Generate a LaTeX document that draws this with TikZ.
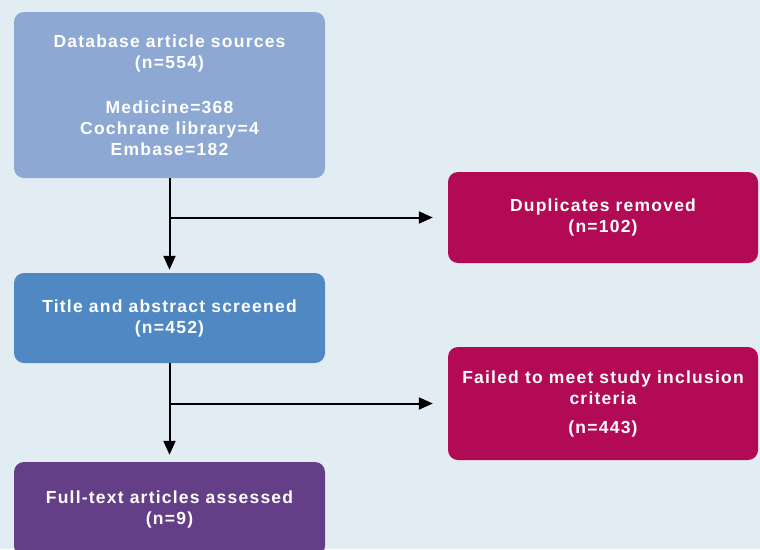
\documentclass[tikz,border=0pt]{standalone}
\usepackage{fontspec}
\setmainfont{Liberation Sans}
\newfontfamily\boxfont[LetterSpace=7]{Liberation Sans}
\usepackage{tikz}
\usetikzlibrary{arrows.meta}

\definecolor{bgblue}{HTML}{E2ECF3}
\definecolor{srcblue}{HTML}{8CA8D3}
\definecolor{scrblue}{HTML}{4F88C2}
\definecolor{fullpurple}{HTML}{643F87}
\definecolor{exclred}{HTML}{B20A55}

\tikzset{
  flowbox/.style={rounded corners=10pt, text=white, align=center,
    font=\boxfont\fontsize{17.5}{21}\selectfont\bfseries, inner sep=0pt},
  flowarrow/.style={line width=2pt, -{Triangle[length=14pt,width=12pt]}}
}

\begin{document}
\begin{tikzpicture}[x=1pt,y=-1pt]
    \fill[bgblue] (0,0) rectangle (760,549);
    \useasboundingbox (0,0) rectangle (760,549);
    \node[flowbox, fill=srcblue, minimum width=311pt, minimum height=166pt] (sources) at (169.5,95)
      {Database article sources\\(n=554)\\[24pt]Medicine=368\\Cochrane library=4\\Embase=182};
    \node[flowbox, fill=scrblue, minimum width=311pt, minimum height=90pt] (screened) at (169.5,318)
      {Title and abstract screened\\(n=452)};
    \node[flowbox, fill=fullpurple, minimum width=311pt, minimum height=94pt] (fulltext) at (169.5,509)
      {Full-text articles assessed\\(n=9)};
    \node[flowbox, fill=exclred, minimum width=310pt, minimum height=91pt] (duplicates) at (603,217.5)
      {Duplicates removed\\(n=102)};
    \node[flowbox, fill=exclred, minimum width=310pt, minimum height=113pt] (failed) at (603,403.5)
      {Failed to meet study inclusion\\criteria\\[8pt](n=443)};
    \coordinate (split1) at (sources.south |- duplicates.west);
    \coordinate (split2) at (screened.south |- failed.west);
    \draw[flowarrow, shorten >=3pt] (sources.south) -- (screened.north);
    \draw[flowarrow, shorten >=15pt] (split1) -- (duplicates.west);
    \draw[flowarrow, shorten >=7pt] (screened.south) -- (fulltext.north);
    \draw[flowarrow, shorten >=15pt] (split2) -- (failed.west);
  \end{tikzpicture}
\end{document}
